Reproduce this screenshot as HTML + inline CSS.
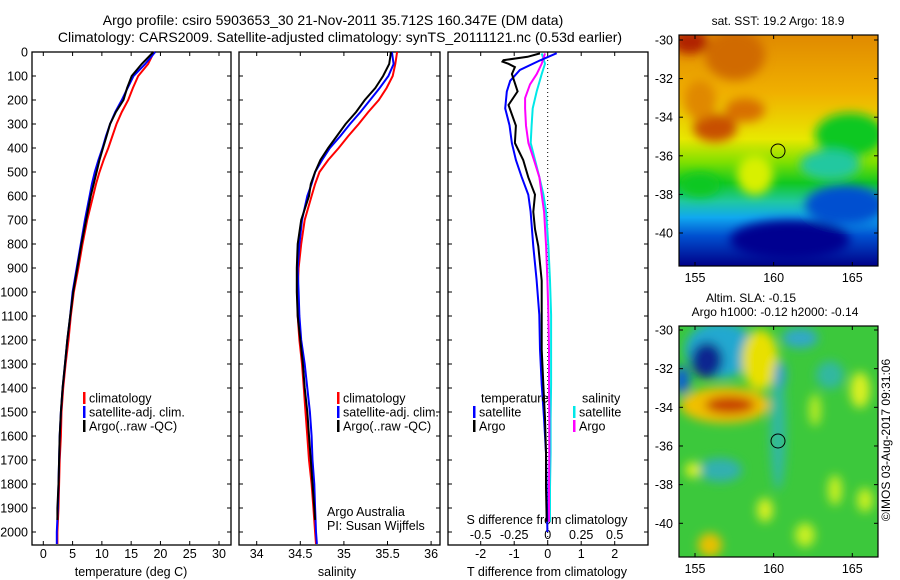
<!DOCTYPE html>
<html><head><meta charset="utf-8"><style>
body{margin:0;background:#fff;}
svg{display:block;font-family:"Liberation Sans",sans-serif;}
</style></head><body>
<svg id="c" width="900" height="580" viewBox="0 0 900 580">
<defs>
<filter id="bl" x="-20%" y="-20%" width="140%" height="140%"><feGaussianBlur stdDeviation="5"/></filter>
<clipPath id="m1"><rect x="679" y="35" width="199" height="231"/></clipPath>
<clipPath id="m2"><rect x="679" y="326" width="199" height="231"/></clipPath>
<linearGradient id="sstg" x1="0" y1="0" x2="0" y2="1">
<stop offset="0" stop-color="#e08a00"/><stop offset="0.25" stop-color="#f0b000"/>
<stop offset="0.45" stop-color="#e8e800"/><stop offset="0.55" stop-color="#80e000"/>
<stop offset="0.64" stop-color="#10c820"/><stop offset="0.72" stop-color="#20c8a0"/>
<stop offset="0.79" stop-color="#10a8f0"/><stop offset="0.87" stop-color="#0050d0"/>
<stop offset="1" stop-color="#000088"/></linearGradient>
</defs>
<text x="333" y="25" font-size="14" text-anchor="middle">Argo profile: csiro 5903653_30 21-Nov-2011 35.712S 160.347E (DM data)</text>
<text x="340" y="42" font-size="14" text-anchor="middle">Climatology: CARS2009. Satellite-adjusted climatology: synTS_20111121.nc (0.53d earlier)</text>

<g clip-path="url(#m1)">
<rect x="679" y="35" width="199" height="231" fill="url(#sstg)"/>
<g filter="url(#bl)">
<ellipse cx="690" cy="42" rx="18" ry="12" fill="#b02000"/>
<ellipse cx="735" cy="55" rx="30" ry="25" fill="#d06a00"/>
<ellipse cx="715" cy="128" rx="22" ry="14" fill="#c85000"/>
<ellipse cx="745" cy="110" rx="20" ry="12" fill="#d87000"/>
<ellipse cx="700" cy="100" rx="16" ry="20" fill="#e08800"/>
<ellipse cx="850" cy="135" rx="35" ry="22" fill="#10c820"/>
<ellipse cx="830" cy="165" rx="30" ry="15" fill="#20c8a0"/>
<ellipse cx="755" cy="175" rx="18" ry="20" fill="#d8f000"/>
<ellipse cx="700" cy="185" rx="20" ry="12" fill="#10c820"/>
<ellipse cx="845" cy="205" rx="40" ry="20" fill="#0050d0"/>
<ellipse cx="790" cy="240" rx="60" ry="20" fill="#000090"/>
</g>
<circle cx="778" cy="151" r="7" fill="none" stroke="#000" stroke-width="1"/>
</g>
<rect x="679" y="35" width="199" height="231" fill="none" stroke="#000" stroke-width="1.2"/>

<g clip-path="url(#m2)">
<rect x="679" y="326" width="199" height="231" fill="#3cc83c"/>
<g filter="url(#bl)">
<ellipse cx="720" cy="350" rx="35" ry="28" fill="#20a8d0"/>
<ellipse cx="760" cy="360" rx="18" ry="30" fill="#e8e000"/>
<ellipse cx="725" cy="405" rx="45" ry="18" fill="#f0c000"/>
<ellipse cx="730" cy="405" rx="25" ry="9" fill="#c84000"/>
<ellipse cx="707" cy="360" rx="16" ry="18" fill="#0a2890"/>
<ellipse cx="682" cy="380" rx="8" ry="14" fill="#1060d0"/>
<ellipse cx="778" cy="430" rx="8" ry="60" fill="#30b8a0"/>
<ellipse cx="780" cy="375" rx="6" ry="14" fill="#30a0d0"/>
<ellipse cx="800" cy="338" rx="18" ry="10" fill="#30a8c8"/>
<ellipse cx="830" cy="375" rx="14" ry="14" fill="#30b8a0"/>
<ellipse cx="720" cy="470" rx="22" ry="12" fill="#30b0b0"/>
<ellipse cx="860" cy="390" rx="10" ry="18" fill="#d8f020"/>
<ellipse cx="815" cy="410" rx="6" ry="16" fill="#b8ec20"/>
<ellipse cx="693" cy="470" rx="8" ry="8" fill="#d8f020"/>
<ellipse cx="765" cy="510" rx="8" ry="12" fill="#d8f020"/>
<ellipse cx="710" cy="545" rx="12" ry="12" fill="#e8c000"/>
<ellipse cx="835" cy="490" rx="7" ry="15" fill="#c8f020"/>
<ellipse cx="805" cy="535" rx="10" ry="12" fill="#c8f020"/>
<ellipse cx="865" cy="500" rx="8" ry="12" fill="#c8f020"/>
</g>
<circle cx="778" cy="441" r="7" fill="none" stroke="#000" stroke-width="1"/>
</g>
<rect x="679" y="326" width="199" height="231" fill="none" stroke="#000" stroke-width="1.2"/>
<text x="778" y="25" font-size="12" text-anchor="middle">sat. SST: 19.2 Argo: 18.9</text>
<text x="751" y="302" font-size="12" text-anchor="middle">Altim. SLA: -0.15</text>
<text x="775" y="316" font-size="12" text-anchor="middle">Argo h1000: -0.12 h2000: -0.14</text>
<text transform="translate(890,440) rotate(-90)" font-size="12" text-anchor="middle">©IMOS 03-Aug-2017 09:31:06</text>
<g id="g"></g>
</svg>
<script>
const depthGrid=[0,50,100,150,200,250,300,350,400,450,500,550,600,700,800,900,1000,1100,1200,1300,1400,1500,1600,1700,1800,1900,2000,2050];
const tempClim=[18.9,17.9,16.2,15.3,14.5,13.4,12.5,11.8,11.1,10.3,9.6,9.0,8.5,7.5,6.7,6.0,5.2,4.7,4.3,3.8,3.4,3.1,3.0,2.8,2.7,2.6,2.4,2.4];
const tempSat=[19.1,17.4,15.4,14.4,13.4,12.3,11.4,10.7,10.1,9.4,8.8,8.3,7.9,7.1,6.4,5.7,5.0,4.6,4.1,3.7,3.3,3.0,2.8,2.7,2.6,2.5,2.3,2.3];
const argoDepth=[0,50,100,150,200,250,300,350,400,450,500,550,600,700,800,900,1000,1100,1200,1300,1400,1500,1600,1700,1800,1900,1950];
const tempArgo=[18.8,16.8,15.1,14.3,13.7,12.4,11.4,10.8,10.2,9.6,9.1,8.6,8.1,7.3,6.5,5.8,5.1,4.6,4.1,3.7,3.3,3.0,2.8,2.7,2.6,2.4,2.4];
const salClim=[35.61,35.59,35.56,35.49,35.40,35.28,35.17,35.05,34.94,34.82,34.72,34.67,34.63,34.55,34.51,34.48,34.47,34.47,34.49,34.52,34.54,34.56,34.58,34.60,34.63,34.65,34.67,34.68];
const salSat=[35.55,35.57,35.51,35.41,35.30,35.19,35.07,34.96,34.84,34.75,34.67,34.63,34.58,34.52,34.49,34.47,34.48,34.49,34.51,34.55,34.58,34.61,34.63,34.64,34.66,34.67,34.68,34.69];
const salArgo=[35.54,35.52,35.45,35.36,35.24,35.14,35.02,34.92,34.82,34.73,34.67,34.62,34.60,34.51,34.47,34.46,34.46,34.47,34.50,34.53,34.55,34.58,34.60,34.62,34.64,34.66,34.67];
const dTsatDepth=[5,35,75,120,165,235,305,380,450,520,595,665,810,950,1095,1240,1385,1525,1670,1815,2000];
const dTsat=[0.27,-0.23,-0.83,-1.12,-1.22,-1.27,-1.14,-1.07,-0.95,-0.78,-0.58,-0.51,-0.43,-0.33,-0.25,-0.23,-0.18,-0.11,-0.05,-0.03,-0.01];
const dTargoDepth=[6,20,34,40,49,63,92,164,221,307,379,450,522,594,666,738,809,953,1096,1240,1383,1527,1670,1814,1957];
const dTargo=[-0.23,-0.6,-1.32,-1.35,-1.17,-0.98,-1.07,-0.9,-1.17,-0.95,-0.98,-0.73,-0.58,-0.38,-0.43,-0.38,-0.28,-0.18,-0.18,-0.18,-0.13,-0.08,-0.05,-0.05,-0.03];
const dSsatDepth=[6,49,92,164,235,307,379,450,522,594,666,809,953,1096,1240,1383,1527,1670,1814,1957];
const dSsat=[-0.045,-0.02,-0.045,-0.082,-0.112,-0.12,-0.127,-0.095,-0.062,-0.032,-0.012,0.005,0.017,0.025,0.025,0.025,0.022,0.022,0.017,0.017];
const dSargoDepth=[6,49,92,135,192,235,307,379,450,522,594,666,809,953,1096,1240,1383,1527,1670,1814,1957];
const dSargo=[-0.02,-0.045,-0.082,-0.132,-0.169,-0.169,-0.162,-0.144,-0.102,-0.062,-0.045,-0.027,-0.012,-0.002,0.005,0.01,0.01,0.012,0.012,0.01,0.01];
const depthTicks=[0,100,200,300,400,500,600,700,800,900,1000,1100,1200,1300,1400,1500,1600,1700,1800,1900,2000];
const tempTicks=[0,5,10,15,20,25,30];
const salTicks=[34,34.5,35,35.5,36];
const dTTicks=[-2,-1,0,1,2];
const dSTickLabels=["-0.5","-0.25","0","0.25","0.5"];
const dSTicks=[-0.5,-0.25,0,0.25,0.5];
const lonTicks=[155,160,165];
const latTicks=[-30,-32,-34,-36,-38,-40];

const NS="http://www.w3.org/2000/svg";
const G=document.getElementById('g');
const TOP=52,BOT=545;
const yD=d=>TOP+d*0.24;
const xT=t=>43.3+t*5.857;
const xS=s=>256.7+(s-34)*87.2;
const xDT=t=>547.7+t*33.5;
const xDS=s=>547.7+s*134;
const lonX=l=>695+(l-155)*15.73;
const latY1=l=>40+(-30-l)*19.3;
const latY2=l=>330+(-30-l)*19.33;
function mk(tag,at){const e=document.createElementNS(NS,tag);for(const k in at)e.setAttribute(k,at[k]);G.appendChild(e);return e;}
function txt(x,y,s,anchor,size){const e=mk('text',{x:x,y:y,'font-size':size||12,'text-anchor':anchor||'middle'});e.textContent=s;return e;}
function line(xs,ds,xf,color,name){
  const pts=xs.map((v,i)=>xf(v).toFixed(1)+','+yD(ds[i]).toFixed(1)).join(' ');
  const e=mk('polyline',{points:pts,fill:'none',stroke:color,'stroke-width':2});
  
  
}
const panels=[[32,231],[239,440],[448,648]];
panels.forEach((p,i)=>{
  const r=mk('rect',{x:p[0],y:TOP,width:p[1]-p[0],height:BOT-TOP,fill:'none',stroke:'#000','stroke-width':1.3});
  
  
  depthTicks.forEach(d=>{
    mk('line',{x1:p[0],x2:p[0]+4,y1:yD(d),y2:yD(d),stroke:'#000'});
    mk('line',{x1:p[1],x2:p[1]-4,y1:yD(d),y2:yD(d),stroke:'#000'});
  });
});
depthTicks.forEach(d=>{const t=txt(28,yD(d)+4.5,String(d),'end',12.5);
  
  });
function xticks(vals,f,labels,ylab){
  vals.forEach((v,i)=>{const x=f(v);
    mk('line',{x1:x,x2:x,y1:BOT,y2:BOT-4,stroke:'#000'});
    mk('line',{x1:x,x2:x,y1:TOP,y2:TOP+4,stroke:'#000'});
    const t=txt(x,ylab,labels[i],'middle',12.5);
    
    });
}
xticks(tempTicks,xT,tempTicks.map(String),558);
xticks(salTicks,xS,salTicks.map(String),558);
xticks(dTTicks,xDT,dTTicks.map(String),558);
dSTicks.forEach((v,i)=>{const t=txt(xDS(v),539,dSTickLabels[i],'middle',12.5);
  
  });
let a=txt(131,576,'temperature (deg C)','middle',12.5);
a=txt(337,576,'salinity','middle',12.5);
a=txt(547,576,'T difference from climatology','middle',12.5);
a=txt(547,524,'S difference from climatology','middle',12.5);
mk('line',{x1:547.7,x2:547.7,y1:TOP,y2:BOT,stroke:'#000','stroke-dasharray':'1,3'});
line(tempClim,depthGrid,xT,'#ff0000','temp-climatology-line');
line(tempSat,depthGrid,xT,'#0000ff','temp-satellite-line');
line(tempArgo,argoDepth,xT,'#000000','temp-argo-line');
line(salClim,depthGrid,xS,'#ff0000','sal-climatology-line');
line(salSat,depthGrid,xS,'#0000ff','sal-satellite-line');
line(salArgo,argoDepth,xS,'#000000','sal-argo-line');
line(dSsat,dSsatDepth,xDS,'#00e8e8','s-diff-satellite-line');
line(dSargo,dSargoDepth,xDS,'#ff00ff','s-diff-argo-line');
line(dTsat,dTsatDepth,xDT,'#0000ff','t-diff-satellite-line');
line(dTargo,dTargoDepth,xDT,'#000000','t-diff-argo-line');
function leg(x,y,color,label){
  const b=mk('rect',{x:x,y:y-6,width:2.5,height:12,fill:color});
  
  
  const t=txt(x+6,y+4.5,label,'start',12.5);
  
  
}
leg(83,398,'#ff0000','climatology');leg(83,412,'#0000ff','satellite-adj. clim.');leg(83,426,'#000','Argo(..raw -QC)');
leg(337,398,'#ff0000','climatology');leg(337,412,'#0000ff','satellite-adj. clim.');leg(337,426,'#000','Argo(..raw -QC)');
a=txt(481,402.5,'temperature','start',12.5);
a=txt(582,402.5,'salinity','start',12.5);
leg(473,412,'#0000ff','satellite');leg(473,426,'#000','Argo');
leg(573,412,'#00e8e8','satellite');leg(573,426,'#ff00ff','Argo');
a=txt(327,516,'Argo Australia','start',12.5);
a=txt(327,530,'PI: Susan Wijffels','start',12.5);
[[35,266,latY1],[326,557,latY2]].forEach(m=>{
  lonTicks.forEach(l=>{const x=lonX(l);
    mk('line',{x1:x,x2:x,y1:m[0],y2:m[0]+4,stroke:'#000'});
    mk('line',{x1:x,x2:x,y1:m[1],y2:m[1]-4,stroke:'#000'});
    const t=txt(x,m[1]+16,String(l),'middle',12.5);
    
    });
  latTicks.forEach(l=>{const y=m[2](l);
    mk('line',{x1:679,x2:683,y1:y,y2:y,stroke:'#000'});
    mk('line',{x1:878,x2:874,y1:y,y2:y,stroke:'#000'});
    const t=txt(673,y+4.5,String(l),'end',12.5);
    
    });
});
</script>
</body></html>
